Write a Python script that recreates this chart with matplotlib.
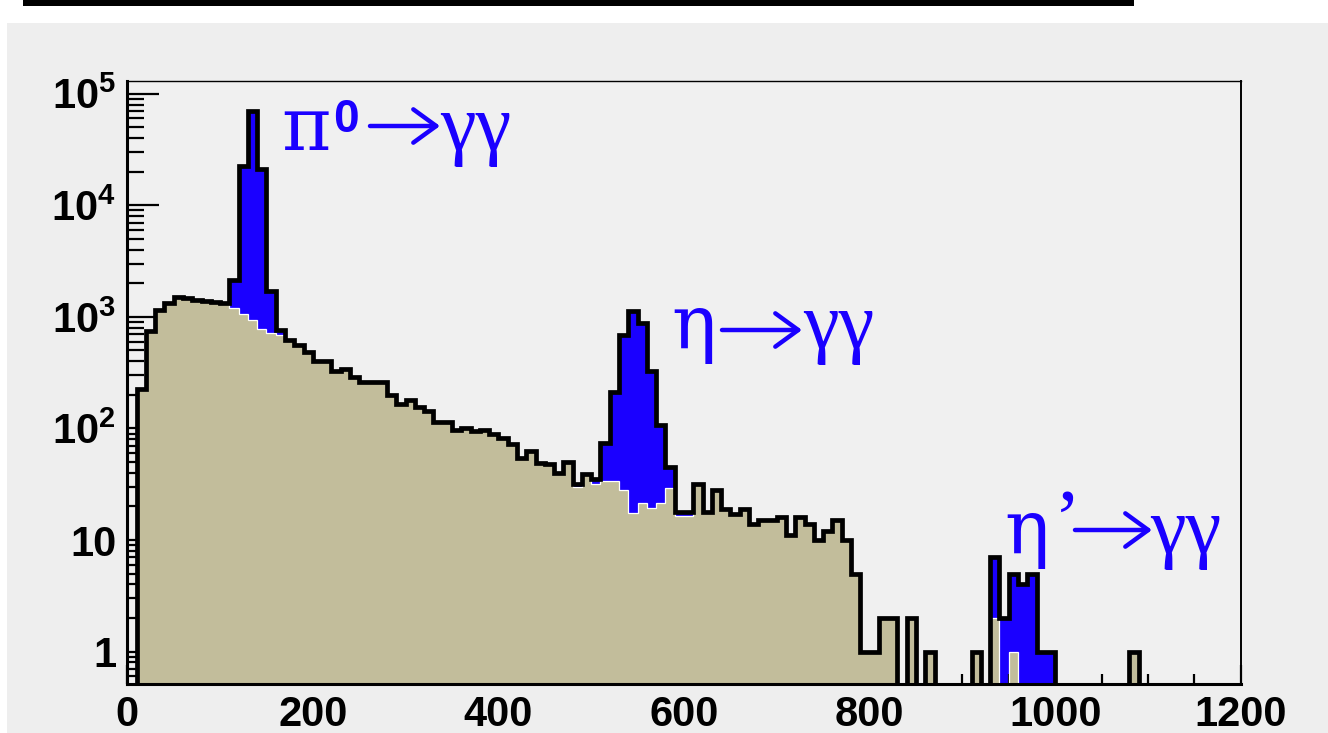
import matplotlib.pyplot as plt
import numpy as np
from matplotlib.patches import Rectangle, FancyArrowPatch

plt.rcParams['mathtext.fontset'] = 'custom'
plt.rcParams['mathtext.rm'] = 'Liberation Sans:bold'
plt.rcParams['mathtext.bf'] = 'Liberation Sans:bold'

W, H = 1328, 733

# invariant mass spectrum, 10 MeV bins from 0 to 1200
bin_edges = np.arange(0, 1210, 10)

total_counts = [
    0, 224, 755, 1160, 1330, 1500, 1480, 1430, 1380, 1360,
    1345, 2140, 22500, 69500, 21000, 1720, 760, 621, 565, 488,
    403, 403, 330, 339, 288, 263, 259, 259, 200, 166,
    180, 155, 144, 114, 114, 96, 100, 95, 96, 89,
    82, 73, 54, 63, 49, 48, 40, 50, 32, 39,
    35, 74, 212, 690, 1130, 877, 330, 107, 45, 18,
    18, 32, 18, 28, 19, 17, 19, 14, 15, 15,
    16, 11, 16, 14, 10, 12, 15, 10, 5, 1,
    1, 2, 2, 0, 2, 0, 1, 0, 0, 0,
    0, 1, 0, 7, 2, 5, 4, 5, 1, 1,
    0, 0, 0, 0, 0, 0, 0, 0, 1, 0,
    0, 0, 0, 0, 0, 0, 0, 0, 0, 0,
]

background_counts = [
    0, 224, 755, 1160, 1330, 1500, 1480, 1430, 1380, 1360,
    1345, 1195, 1062, 938, 783, 720, 690, 621, 565, 488,
    403, 403, 330, 339, 288, 263, 259, 259, 200, 166,
    180, 155, 144, 114, 114, 96, 100, 95, 96, 89,
    82, 73, 54, 63, 49, 48, 40, 50, 30, 39,
    32, 34, 34, 28, 17.4, 21.4, 19.4, 21.5, 29, 16.3,
    16.3, 32, 18, 28, 19, 17, 19, 14, 15, 15,
    16, 11, 16, 14, 10, 12, 15, 10, 5, 1,
    1, 2, 2, 0, 2, 0, 1, 0, 0, 0,
    0, 1, 0, 2, 0, 1, 0, 0, 0, 0,
    0, 0, 0, 0, 0, 0, 0, 0, 1, 0,
    0, 0, 0, 0, 0, 0, 0, 0, 0, 0,
]

x_ticks = [0, 200, 400, 600, 800, 1000, 1200]
y_ticks = [1, 10, 100, 1000, 10000, 100000]
y_tick_labels = ['1', '10', r'$\mathbf{10^{2}}$', r'$\mathbf{10^{3}}$',
                 r'$\mathbf{10^{4}}$', r'$\mathbf{10^{5}}$']

blue = '#1a00ff'
tan = '#c2bd9b'
panel = '#eeeeee'

fig = plt.figure(figsize=(W / 100, H / 100), dpi=100, facecolor='white')

# grey canvas and the dark strip above it
fig.add_artist(Rectangle((7 / W, 0), 1 - 7 / W, 1 - 23 / H, transform=fig.transFigure,
                         facecolor=panel, edgecolor='none', zorder=0))
fig.add_artist(Rectangle((23 / W, 1 - 6 / H), (1134 - 23) / W, 6 / H, transform=fig.transFigure,
                         facecolor='black', edgecolor='none', zorder=0))

left, right, top, bottom = 127.3, 1240.7, 81, 684.3
ax = fig.add_axes([left / W, 1 - bottom / H, (right - left) / W, (bottom - top) / H])
ax.set_facecolor('#f0f0f0')

floor = 1e-3
tot = np.where(np.array(total_counts, float) > 0, total_counts, floor)
bkg = np.where(np.array(background_counts, float) > 0, background_counts, floor)

ax.stairs(tot, bin_edges, fill=True, color=blue, baseline=floor, zorder=1)
ax.stairs(bkg, bin_edges, fill=True, color=tan, baseline=floor, zorder=2)
ax.stairs(bkg, bin_edges, color='white', lw=0.9, baseline=None, zorder=2.5)
ax.stairs(tot, bin_edges, color='black', lw=3.4, baseline=None, zorder=3)

ax.set_yscale('log')
ax.set_xlim(0, 1200)
ax.set_ylim(0.51, 1.3e5)

ax.set_xticks(x_ticks)
ax.set_xticklabels([str(t) for t in x_ticks])
ax.set_xticks(np.arange(0, 1201, 50), minor=True)
ax.set_yticks(y_ticks)
ax.set_yticklabels(y_tick_labels)
minor_y = [m * 10.0 ** e for e in range(-1, 6) for m in range(2, 10)]
ax.set_yticks([v for v in minor_y if 0.51 < v < 1.3e5], minor=True)
ax.yaxis.set_minor_formatter(plt.NullFormatter())

for lab in ax.get_xticklabels() + ax.get_yticklabels():
    lab.set_fontfamily('Liberation Sans')
    lab.set_fontweight('bold')
    lab.set_fontsize(30)

ax.tick_params(axis='both', which='both', direction='in', top=False, right=False, color='black')
ax.tick_params(axis='x', which='major', length=14, width=1.6, pad=8)
ax.tick_params(axis='x', which='minor', length=7, width=1.6)
ax.tick_params(axis='y', which='major', length=23, width=1.6, pad=8)
ax.tick_params(axis='y', which='minor', length=12, width=1.6)

ax.spines['left'].set_linewidth(2.2)
ax.spines['bottom'].set_linewidth(2.2)
ax.spines['top'].set_linewidth(1.0)
ax.spines['right'].set_linewidth(1.4)
for s in ax.spines.values():
    s.set_zorder(4)


def label(x, y, s, **kw):
    fig.text(x / W, 1 - y / H, s, color=blue, va='baseline', ha='left', **kw)


def arrow(x0, x1, y):
    fig.add_artist(FancyArrowPatch((x0 / W, 1 - y / H), (x1 / W, 1 - y / H),
                                   transform=fig.transFigure, color=blue, lw=3.2,
                                   arrowstyle='->,head_length=0.55,head_width=0.4',
                                   mutation_scale=30, shrinkA=0, shrinkB=0))


meson = dict(fontfamily='DejaVu Serif', fontsize=54)
photon = dict(fontfamily='Liberation Serif', fontsize=58)
sup = dict(fontfamily='Liberation Sans', fontweight='bold', fontsize=33)

# pi0 -> gamma gamma
label(281, 150, 'π', **meson)
label(333, 132, '0', **sup)
arrow(370, 440, 126)
label(440, 150, 'γγ', **photon)

# eta -> gamma gamma
label(671, 348, 'η', **meson)
arrow(722, 802, 330)
label(803, 348, 'γγ', **photon)

# eta' -> gamma gamma
label(1004, 553, 'η', **meson)
label(1054, 545, '’', **photon)
arrow(1075, 1152, 530)
label(1150, 553, 'γγ', **photon)

fig.savefig('out.png', dpi=100, facecolor=fig.get_facecolor())
